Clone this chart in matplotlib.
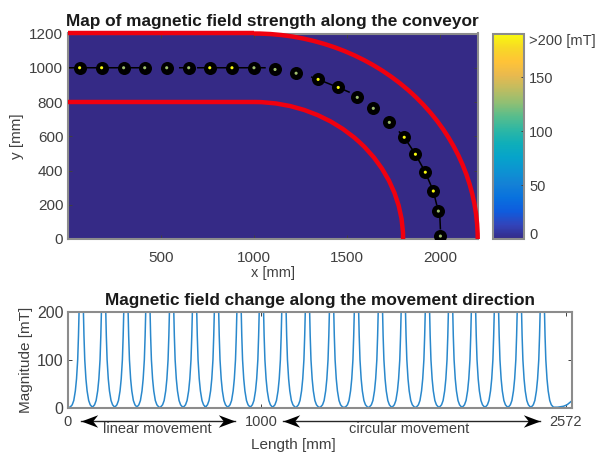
# -*- coding: utf-8 -*-
"""Magnetic field map along a conveyor, and field change along the movement."""
import numpy as np
import matplotlib
matplotlib.use("Agg")
import matplotlib.pyplot as plt
from matplotlib.cm import ScalarMappable
from matplotlib.colors import LinearSegmentedColormap, Normalize
from matplotlib.patches import Arc

plt.rcParams.update({
    "font.family": ["Liberation Sans", "DejaVu Sans"], "font.size": 10.5,
    "axes.edgecolor": "#8c8c8c", "axes.linewidth": 1.5,
    "text.color": "#404040", "axes.labelcolor": "#404040",
    "xtick.color": "#404040", "ytick.color": "#404040",
})

PX_W, PX_H = 597, 454
RED = "#f0000f"

parula = LinearSegmentedColormap.from_list("parula", [
    (.2081, .1663, .5292), (.1959, .2645, .7279), (.0591, .3598, .8683),
    (.0329, .4430, .8720), (.0779, .5040, .8384), (.0488, .5772, .8228),
    (.0231, .6418, .7913), (.0590, .6838, .7254), (.1801, .7177, .6424),
    (.3482, .7424, .5473), (.5709, .7485, .4494), (.7525, .7384, .3768),
    (.9139, .7258, .3063), (.9990, .7653, .2164), (.9697, .8481, .1475),
    (.9763, .9831, .0538)])

# magnet positions on the conveyor, mm
dot_x = [65, 183, 301, 414, 532, 650, 763, 882, 1000, 1113, 1226, 1344, 1452,
         1554, 1640, 1726, 1806, 1866, 1919, 1962, 1989, 2000]
dot_y = [1000, 1000, 1000, 1000, 1000, 1000, 1000, 1000, 1000, 990, 968, 932,
         885, 827, 763, 681, 594, 495, 390, 280, 163, 17]
dot_field = [190, 190, 130, 130, 130, 130, 190, 190, 130, 130, 130, 190, 190,
             130, 130, 130, 190, 190, 190, 190, 130, 130]

# visible parts of the thin path line
path_x = [0, 382, np.nan, 602, 656, np.nan, 699, 1059, np.nan, 1310, 1344, 1452,
          1510, np.nan, 1780, 1806, 1866, 1919, 1962, 1980, np.nan, 1997, 2000]
path_y = [1000, 1000, np.nan, 1000, 1000, np.nan, 1000, 1000, np.nan, 945, 932, 885,
          858, np.nan, 625, 594, 495, 390, 280, 200, np.nan, 130, 60]

# conveyor rails
rail_centre = (1000, 0)
rail_radii = [800, 1200]

map_xticks = [500, 1000, 1500, 2000]
map_yticks = [0, 200, 400, 600, 800, 1000, 1200]
cbar_ticks = [5, 50, 100, 150, 185]
cbar_labels = ["0", "50", "100", "150", ">200 [mT]"]

# field along the length: one peak shape repeated at each magnet
peak_centres = [70, 184, 298, 410, 531, 648, 760, 875, 989, 1104, 1224, 1347,
                1474, 1596, 1713, 1836, 1954, 2071, 2188, 2305, 2422]
peak_offset = [-57, -46, -38, -30, -24, -18, -14, -11, 0, 11, 14, 18, 24, 30, 38, 46, 57]
peak_field = [1, 6, 15, 35, 60, 100, 150, 200, 400, 200, 150, 100, 60, 35, 15, 6, 1]
head_x = [0, 5]
head_y = [1, 1]
tail_x = [2500, 2530, 2548, 2572]
tail_y = [1, 3, 6, 14]

len_xticks = [0, 989, 2541]
len_xlabels = ["0", "1000", "2572"]
len_yticks = [0, 100, 200]

# double arrows under the length axis, mm
arrow_ranges = [(70, 853), (1098, 2412)]

length = np.concatenate([head_x] + [np.add(c, peak_offset) for c in peak_centres] + [tail_x])
field = np.concatenate([head_y] + [peak_field for c in peak_centres] + [tail_y])


def box(left, top, right, bottom):
    return [left / PX_W, 1 - bottom / PX_H, (right - left) / PX_W, (bottom - top) / PX_H]


fig = plt.figure(figsize=(PX_W / 100, PX_H / 100), dpi=100)

# ---------- map ----------
ax = fig.add_axes(box(67.5, 33.5, 477.7, 239))
norm = Normalize(0, 190)
ax.imshow(np.zeros((2, 2)), cmap=parula, norm=norm, extent=(0, 2200, 0, 1200), aspect="auto")
ax.plot(path_x, path_y, color="black", lw=1.1, zorder=2)
ax.scatter(dot_x, dot_y, s=88, color="black", linewidths=0, zorder=3)
ax.scatter(dot_x, dot_y, s=5, c=dot_field, cmap=parula, norm=norm, linewidths=0, zorder=4)
for r in rail_radii:
    ax.plot([0, rail_centre[0]], [r, r], color=RED, lw=3.2, zorder=5, clip_on=False,
            solid_capstyle="butt")
    ax.add_patch(Arc(rail_centre, 2 * r, 2 * r, theta1=0, theta2=90, color=RED, lw=3.2,
                     zorder=5, clip_on=False))
ax.set_xlim(0, 2200)
ax.set_ylim(0, 1200)
ax.set_xticks(map_xticks)
ax.set_yticks(map_yticks)
ax.tick_params(direction="in", length=3, width=0.7, top=True, right=True, labelsize=11, pad=3)
ax.tick_params(axis="x", pad=9)
ax.set_xlabel("x [mm]", labelpad=0)
ax.set_ylabel("y [mm]", labelpad=3.5, fontsize=11)
ax.set_title("Map of magnetic field strength along the conveyor", fontsize=12.4,
             fontweight="bold", color="#1a1a1a", pad=5.5)

cax = fig.add_axes(box(492.5, 34, 523.5, 239))
cb = fig.colorbar(ScalarMappable(norm=norm, cmap=parula), cax=cax)
cb.set_ticks(cbar_ticks, labels=cbar_labels)
cb.outline.set_edgecolor("#8c8c8c")
cb.outline.set_linewidth(1.5)
cax.tick_params(direction="in", length=2, width=0.7, pad=4)
for t in (cax.yaxis.get_major_ticks()[0], cax.yaxis.get_major_ticks()[-1]):
    t.tick1line.set_visible(False)
    t.tick2line.set_visible(False)

# ---------- field along length ----------
ax2 = fig.add_axes(box(67.5, 311.7, 571.7, 407.7))
ax2.plot(length, field, color="#2a88cc", lw=1.1)
ax2.set_xlim(0, 2572)
ax2.set_ylim(0, 200)
ax2.set_xticks(len_xticks, labels=len_xlabels)
ax2.set_yticks(len_yticks)
ax2.tick_params(direction="in", length=3, width=0.7, top=True, right=True, pad=3)
ax2.tick_params(axis="x", pad=5.5)
ax2.tick_params(axis="y", labelsize=11.5)
ax2.set_xlabel("Length [mm]", fontsize=11)
ax2.xaxis.set_label_coords(0.447, -0.316)
ax2.set_ylabel("Magnitude [mT]", labelpad=3, fontsize=11)
ax2.set_title("Magnetic field change along the movement direction", fontsize=12.4,
              fontweight="bold", color="#1a1a1a", pad=5)

arrow_tr = ax2.get_xaxis_transform()
left_head = [(0, 0), (2, 0.75), (1.4, 0), (2, -0.75), (0, 0)]
right_head = [(-x, y) for x, y in left_head]
for x0, x1 in arrow_ranges:
    ax2.plot([x0, x1], [-0.139, -0.139], color="#262626", lw=1.0, transform=arrow_tr, clip_on=False)
    ax2.plot(x0, -0.139, marker=left_head, ms=24, color="black", mew=0, transform=arrow_tr, clip_on=False)
    ax2.plot(x1, -0.139, marker=right_head, ms=24, color="black", mew=0, transform=arrow_tr, clip_on=False)
ax2.text(460, -0.22, "linear movement", ha="center", va="center", transform=arrow_tr)
ax2.text(1745, -0.22, "circular movement", ha="center", va="center", transform=arrow_tr)

fig.savefig("out.png", dpi=100)
